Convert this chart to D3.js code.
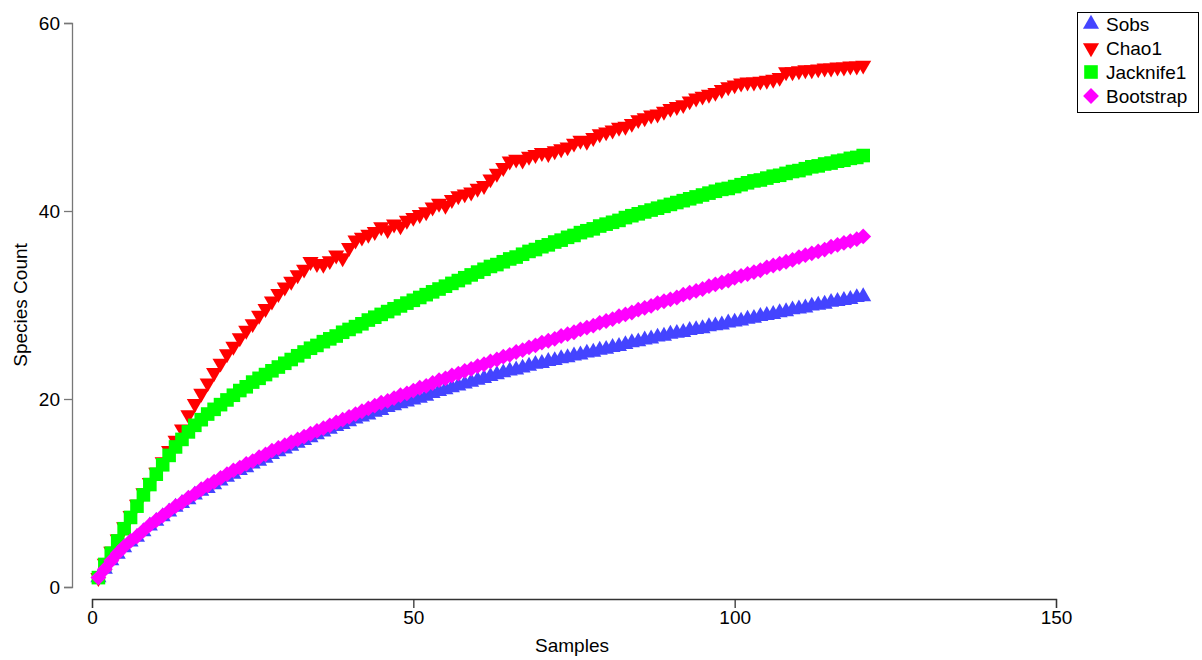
<!DOCTYPE html>
<html>
<head>
<meta charset="utf-8">
<script src="https://cdn.jsdelivr.net/npm/d3@7"></script>
<style>
  body { margin: 0; background: #fff; }
  text { font-family: "Liberation Sans", Arial, sans-serif; }
</style>
</head>
<body>
<div id="chart"></div>
<script>
const xTicks = [0, 50, 100, 150]
const yTicks = [0, 20, 40, 60]
const seriesNames = ["Sobs", "Chao1", "Jacknife1", "Bootstrap"]

const sobs = [1.0,1.9,2.8,3.5,4.2,4.8,5.3,5.9,6.5,7.0,
  7.5,8.0,8.5,8.9,9.3,9.8,10.2,10.5,10.9,11.3,
  11.7,12.0,12.4,12.7,13.1,13.4,13.7,14.1,14.4,14.7,
  15.0,15.3,15.6,15.9,16.2,16.5,16.8,17.1,17.3,17.6,
  17.9,18.1,18.3,18.6,18.8,19.1,19.3,19.5,19.7,19.9,
  20.1,20.3,20.6,20.8,21.0,21.2,21.4,21.6,21.8,22.0,
  22.2,22.4,22.6,22.8,23.0,23.1,23.3,23.5,23.7,23.8,
  24.0,24.1,24.3,24.4,24.6,24.7,24.9,25.0,25.2,25.3,
  25.5,25.6,25.8,26.0,26.1,26.3,26.4,26.6,26.7,26.9,
  27.0,27.1,27.3,27.4,27.5,27.7,27.8,27.9,28.1,28.2,
  28.3,28.5,28.6,28.8,28.9,29.0,29.2,29.3,29.5,29.6,
  29.7,29.9,30.0,30.1,30.3,30.4,30.5,30.6,30.8,30.9]

const chao1 = [1.0,2.5,3.8,5.1,6.4,7.6,8.8,10.0,11.1,12.2,
  13.3,14.5,15.6,16.8,18.3,19.5,20.6,21.7,22.8,23.8,
  24.8,25.6,26.5,27.3,28.0,28.9,29.6,30.4,31.2,31.9,
  32.5,33.2,33.8,34.6,34.4,34.3,34.7,35.3,35.0,36.1,
  36.9,37.2,37.5,37.8,38.3,38.0,38.6,38.4,39.0,39.3,
  39.6,39.9,40.4,40.8,40.6,41.2,41.6,41.8,42.0,42.4,
  42.7,43.4,44.0,44.6,45.3,45.5,45.4,45.8,46.0,46.2,
  46.1,46.4,46.6,46.8,47.2,47.5,47.4,47.8,48.2,48.4,
  48.6,48.9,49.0,49.3,49.7,49.9,50.2,50.3,50.6,50.9,
  51.1,51.3,51.7,52.0,52.2,52.4,52.6,52.9,53.2,53.4,
  53.6,53.7,53.7,53.8,53.9,54.0,54.2,54.8,54.8,54.9,
  55.0,55.0,55.1,55.2,55.2,55.3,55.3,55.4,55.4,55.5]

const jack1 = [1.0,2.4,3.6,4.9,6.2,7.4,8.6,9.8,10.9,12.0,
  13.0,14.0,14.9,15.7,16.5,17.2,17.8,18.4,18.9,19.4,
  19.9,20.4,20.9,21.3,21.8,22.2,22.6,23.0,23.4,23.8,
  24.2,24.6,25.0,25.4,25.7,26.1,26.4,26.7,27.1,27.4,
  27.7,28.0,28.4,28.7,29.0,29.3,29.6,29.9,30.2,30.5,
  30.8,31.1,31.4,31.7,32.0,32.3,32.6,32.9,33.2,33.5,
  33.8,34.1,34.3,34.6,34.9,35.1,35.4,35.7,35.9,36.2,
  36.4,36.7,36.9,37.2,37.4,37.7,37.9,38.1,38.4,38.6,
  38.8,39.0,39.3,39.5,39.7,39.9,40.1,40.3,40.5,40.7,
  40.9,41.1,41.3,41.5,41.7,41.9,42.1,42.3,42.4,42.6,
  42.8,43.0,43.2,43.3,43.5,43.7,43.8,44.0,44.2,44.3,
  44.5,44.7,44.8,45.0,45.1,45.3,45.4,45.6,45.7,45.9]

const bootstrap = [1.0,1.9,2.8,3.6,4.3,4.9,5.4,6.0,6.6,7.1,
  7.6,8.1,8.6,9.0,9.5,9.9,10.4,10.8,11.2,11.6,
  12.0,12.4,12.7,13.1,13.4,13.8,14.1,14.5,14.8,15.1,
  15.4,15.7,16.0,16.3,16.6,16.9,17.2,17.5,17.8,18.1,
  18.4,18.7,19.0,19.3,19.6,19.8,20.1,20.4,20.6,20.9,
  21.2,21.4,21.7,22.0,22.2,22.5,22.7,23.0,23.2,23.5,
  23.7,24.0,24.2,24.5,24.7,25.0,25.2,25.5,25.7,26.0,
  26.2,26.4,26.7,26.9,27.1,27.4,27.6,27.8,28.1,28.3,
  28.5,28.8,29.0,29.2,29.5,29.7,29.9,30.2,30.4,30.6,
  30.8,31.1,31.3,31.5,31.7,32.0,32.2,32.4,32.6,32.9,
  33.1,33.3,33.5,33.7,34.0,34.2,34.4,34.6,34.8,35.1,
  35.3,35.5,35.7,35.9,36.2,36.4,36.6,36.8,37.0,37.3]

const seriesValues = [sobs, chao1, jack1, bootstrap]
const colors = ["#4444ff", "#ff0000", "#00ff00", "#ff00ff"]

const width = 1202, height = 660

const svg = d3.select("#chart").append("svg")
  .attr("width", width)
  .attr("height", height)

const xScale = d3.scaleLinear().domain([0, 150]).range([92, 1056])
const yScale = d3.scaleLinear().domain([0, 60]).range([587, 23])

// marker shapes per series
const triUp = d3.symbol().type(d3.symbolTriangle).size(112)
const square = d3.symbol().type(d3.symbolSquare).size(185)
const diamond = d3.symbol().type(d3.symbolSquare).size(125)
function marker(i){
  if(i == 0) return { path: triUp(), rot: 0 }
  if(i == 1) return { path: triUp(), rot: 180 }
  if(i == 2) return { path: square(), rot: 0 }
  return { path: diamond(), rot: 45 }
}

// y axis
const yAxis = svg.append("g")
  .attr("transform", "translate(72,0)")
  .call(d3.axisLeft(yScale).tickValues(yTicks).tickSize(8).tickPadding(4))
yAxis.selectAll("path, line").attr("stroke", "#777").attr("stroke-width", 1.3)
yAxis.selectAll("text").attr("font-size", 19).attr("fill", "#000")
  .style("font-family", "'Liberation Sans', Arial, sans-serif")

// x axis
const xAxis = svg.append("g")
  .attr("transform", "translate(0,599)")
  .call(d3.axisBottom(xScale).tickValues(xTicks).tickSize(9).tickPadding(3))
xAxis.selectAll("path, line").attr("stroke", "#333").attr("stroke-width", 1.3)
xAxis.selectAll("text").attr("font-size", 19).attr("fill", "#000")
  .style("font-family", "'Liberation Sans', Arial, sans-serif")

svg.append("text")
  .attr("x", 572).attr("y", 652)
  .attr("text-anchor", "middle")
  .attr("font-size", 19)
  .text("Samples")

svg.append("text")
  .attr("transform", "translate(27,305) rotate(-90)")
  .attr("text-anchor", "middle")
  .attr("font-size", 19)
  .text("Species Count")

// points
seriesValues.forEach((vals, i) => {
  const m = marker(i)
  svg.append("g").selectAll("path")
    .data(vals)
    .enter().append("path")
    .attr("d", m.path)
    .attr("transform", (d, j) => "translate(" + xScale(j + 1) + "," + yScale(d) + ") rotate(" + m.rot + ")")
    .attr("fill", colors[i])
})

// legend
const legend = svg.append("g")
legend.append("rect")
  .attr("x", 1077.5).attr("y", 12.5)
  .attr("width", 121).attr("height", 100)
  .attr("fill", "#fff").attr("stroke", "#000").attr("stroke-width", 1)

seriesNames.forEach((name, i) => {
  const m = marker(i)
  const cy = 24 + i * 24
  legend.append("path")
    .attr("d", m.path)
    .attr("transform", "translate(1091," + cy + ") rotate(" + m.rot + ")")
    .attr("fill", colors[i])
  legend.append("text")
    .attr("x", 1106).attr("y", cy)
    .attr("dy", "0.35em")
    .attr("font-size", 19)
    .text(name)
})
</script>
</body>
</html>
